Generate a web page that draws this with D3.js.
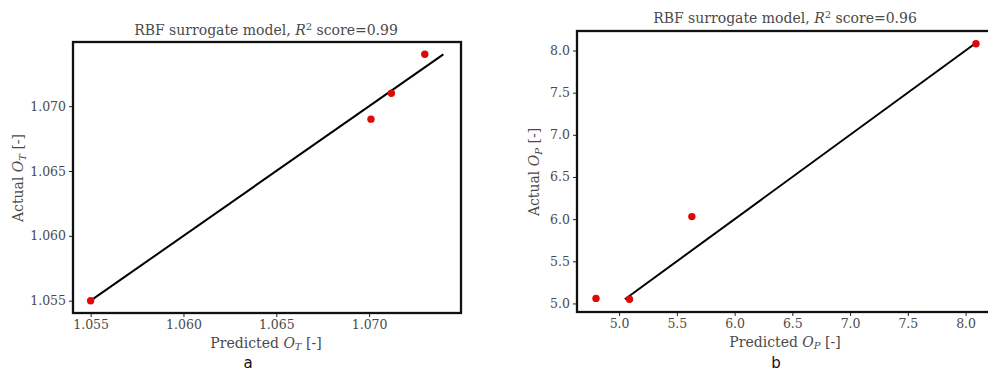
<!DOCTYPE html>
<html lang="en">
<head>
<meta charset="UTF-8">
<title>RBF surrogate model</title>
<script src="https://d3js.org/d3.v7.min.js"></script>
<style>
  body { margin: 0; background: #fff; }
  svg text { font-family: "DejaVu Serif", serif; fill: #4a4a4a; }
  .tick text { font-size: 12.5px; }
  .tick line { stroke: #222; }
  .domain { display: none; }
  .frame { fill: none; stroke: #111; stroke-width: 2.3; }
  .fit { stroke: #000; stroke-width: 2; fill: none; }
  .pt { fill: #dd0a0a; }
  .cap { font-family: "DejaVu Sans", sans-serif; font-size: 15px; fill: #111; }
</style>
</head>
<body>
<script>

// panel a: O_T
var predT = [1.055, 1.0701, 1.0712, 1.0730];
var actT  = [1.055, 1.069, 1.071, 1.074];
var fitT  = [1.055, 1.074];
var ticksT = [1.055, 1.060, 1.065, 1.070];

// panel b: O_P
var predP = [4.80, 5.09, 5.63, 8.09];
var actP  = [5.06, 5.05, 6.03, 8.08];
var fitP  = [5.05, 8.08];
var ticksP = [5.0, 5.5, 6.0, 6.5, 7.0, 7.5, 8.0];

var svg = d3.select("body").append("svg")
    .attr("width", 988)
    .attr("height", 373);

function pad(vals) {
    var lo = d3.min(vals), hi = d3.max(vals), m = (hi - lo) * 0.05;
    return [lo - m, hi + m];
}

function panel(o) {
    var g = svg.append("g").attr("transform", "translate(" + o.left + "," + o.top + ")");
    var w = o.width, h = o.height;

    var x = d3.scaleLinear().domain(pad(o.pred.concat(o.fit))).range([0, w]);
    var y = d3.scaleLinear().domain(pad(o.act.concat(o.fit))).range([h, 0]);

    g.append("g")
        .attr("transform", "translate(0," + h + ")")
        .call(d3.axisBottom(x).tickValues(o.ticks).tickFormat(d3.format(o.fmt)).tickSize(4).tickPadding(3));
    g.append("g")
        .call(d3.axisLeft(y).tickValues(o.ticks).tickFormat(d3.format(o.fmt)).tickSize(4).tickPadding(3));

    g.append("line")
        .attr("class", "fit")
        .attr("x1", x(o.fit[0])).attr("y1", y(o.fit[0]))
        .attr("x2", x(o.fit[1])).attr("y2", y(o.fit[1]));

    g.selectAll(".pt")
        .data(o.pred.map(function(p, i) { return [p, o.act[i]]; }))
        .enter().append("circle")
        .attr("class", "pt")
        .attr("cx", function(d) { return x(d[0]); })
        .attr("cy", function(d) { return y(d[1]); })
        .attr("r", 3.7);

    g.append("rect").attr("class", "frame").attr("width", w).attr("height", h);

    var t = g.append("text")
        .attr("x", w / 2 + o.titleDx).attr("y", o.titleY)
        .attr("text-anchor", "middle").style("font-size", "14px");
    t.append("tspan").text("RBF surrogate model, ");
    t.append("tspan").style("font-style", "italic").text("R");
    t.append("tspan").attr("dy", -5).style("font-size", "10px").text("2");
    t.append("tspan").attr("dy", 5).text(" score=" + o.score);

    var xl = g.append("text")
        .attr("x", w / 2 + o.titleDx).attr("y", h + 35)
        .attr("text-anchor", "middle").style("font-size", "14px");
    xl.append("tspan").text("Predicted ");
    xl.append("tspan").style("font-style", "italic").text("O");
    xl.append("tspan").attr("dy", 2).style("font-style", "italic").style("font-size", "10px").text(o.sub);
    xl.append("tspan").attr("dy", -2).text(" [-]");

    var yl = g.append("text")
        .attr("transform", "translate(" + o.ylabX + "," + o.ylabY + ") rotate(-90)")
        .attr("text-anchor", "middle").style("font-size", "14px");
    yl.append("tspan").text("Actual ");
    yl.append("tspan").style("font-style", "italic").text("O");
    yl.append("tspan").attr("dy", 3).style("font-style", "italic").style("font-size", "10px").text(o.sub);
    yl.append("tspan").attr("dy", -3).text(" [-]");

    svg.append("text").attr("class", "cap")
        .attr("x", o.capX).attr("y", 368)
        .attr("text-anchor", "middle").text(o.cap);
}

panel({left: 73, top: 42, width: 388, height: 271,
       pred: predT, act: actT, fit: fitT, ticks: ticksT, fmt: ".3f",
       score: "0.99", sub: "T", cap: "a", capX: 248,
       titleDx: -1, titleY: -7, ylabX: -50, ylabY: 136});

panel({left: 577, top: 31, width: 418, height: 281,
       pred: predP, act: actP, fit: fitP, ticks: ticksP, fmt: ".1f",
       score: "0.96", sub: "P", cap: "b", capX: 776,
       titleDx: -1, titleY: -8, ylabX: -38, ylabY: 141});

</script>
</body>
</html>
